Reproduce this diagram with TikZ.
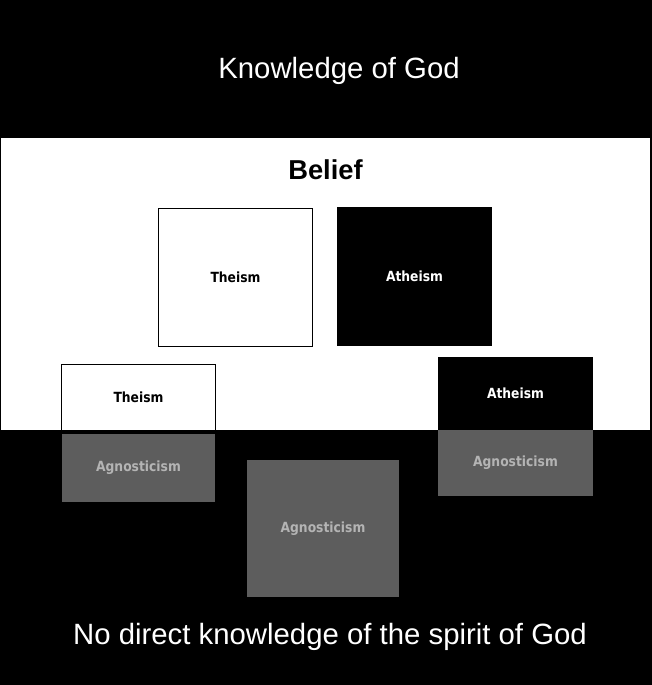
\documentclass[tikz,border=0pt]{standalone}
\usepackage{fontspec}
\setmainfont{Liberation Sans}
\newfontfamily\boxfont[FakeStretch=0.88]{DejaVu Sans}
\usepackage{tikz}

\definecolor{agngray}{RGB}{93,93,93}
\definecolor{agntext}{RGB}{180,180,180}

\tikzset{
  box/.style={inner sep=0pt, font=\boxfont\bfseries\fontsize{10.5}{12}\selectfont},
  boxsize/.style 2 args={minimum width=#1*0.75pt, minimum height=#2*0.75pt},
  theismbox/.style={box, draw=black, line width=0.75pt, fill=white, text=black},
  atheismbox/.style={box, fill=black, text=white},
  agnbox/.style={box, fill=agngray, text=agntext},
  heading/.style={anchor=base, text=white, font=\fontsize{22}{26}\selectfont}
}

\begin{document}
\begin{tikzpicture}[x=0.75pt, y=-0.75pt]
        % background and belief band
        \fill[black] (0, 0) rectangle (652, 685);
        \fill[white] (1, 138) rectangle (650, 430);

        \node[heading] (know) at (339, 79) {Knowledge of God};
        \node[anchor=base, font=\bfseries\fontsize{20.5}{24}\selectfont] (belief) at (325.5, 179) {Belief};
        \node[heading] (nodirect) at (330, 644) {No direct knowledge of the spirit of God};

        \node[theismbox, boxsize={154}{138}] (T1) at (235.5, 277.5) {Theism};
        \node[atheismbox, boxsize={155}{139}] (A1) at (414.5, 276.5) {Atheism};

        \node[theismbox, boxsize={154}{66}] (T2) at (138.5, 397) {Theism};
        \node[agnbox, boxsize={153}{68}] (G2) at (138.5, 468) {Agnosticism};

        \node[atheismbox, boxsize={155}{73}] (A3) at (515.5, 393.5) {Atheism};
        \node[agnbox, boxsize={155}{66}] (G3) at (515.5, 463) {Agnosticism};

        \node[agnbox, boxsize={152}{137}] (G4) at (323, 528.5) {Agnosticism};
      \end{tikzpicture}
\end{document}
